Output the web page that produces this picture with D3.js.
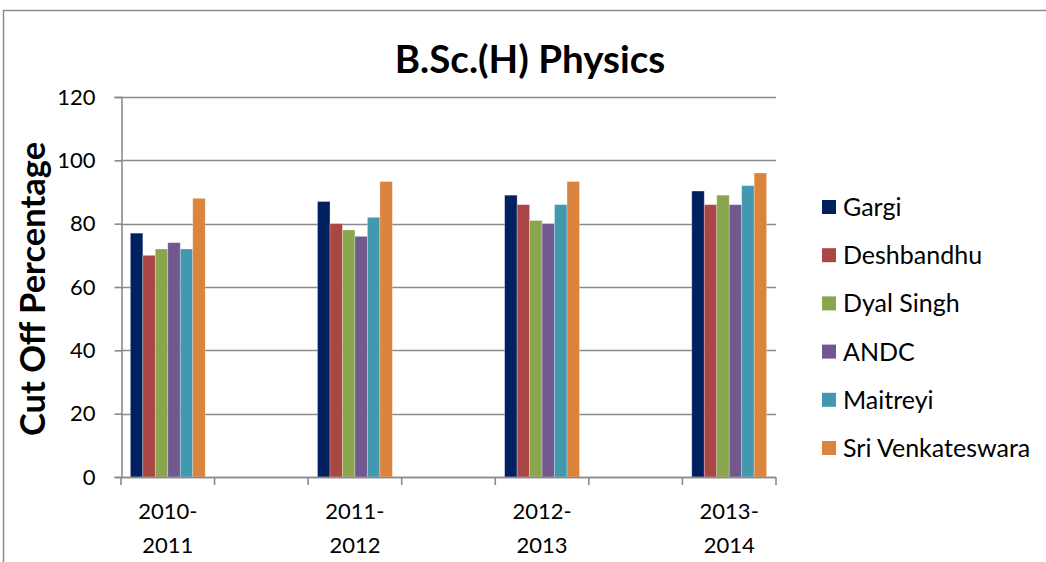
<!DOCTYPE html>
<html>
<head>
<meta charset="utf-8">
<script src="https://cdn.jsdelivr.net/npm/d3@7"></script>
<style>
  html, body { margin: 0; padding: 0; background: #fff; }
  svg { display: block; }
  text { font-family: Lato, "Open Sans", sans-serif; fill: #000; }
</style>
</head>
<body>
<svg id="chart" width="1046" height="562"></svg>
<script>
// ---- data ----
const slots = ["2010-2011", "", "2011-2012", "", "2012-2013", "", "2013-2014"];
const series = ["Gargi", "Deshbandhu", "Dyal Singh", "ANDC", "Maitreyi", "Sri Venkateswara"];
const gargi      = [77, null, 87, null, 89, null, 90.3];
const deshbandhu = [70, null, 80, null, 86, null, 86];
const dyalSingh  = [72, null, 78, null, 81, null, 89];
const andc       = [74, null, 76, null, 80, null, 86];
const maitreyi   = [72, null, 82, null, 86, null, 92];
const sriVenk    = [88, null, 93.3, null, 93.3, null, 96];
const yTicks = [0, 20, 40, 60, 80, 100, 120];
const colors = ["#002060", "#AA4643", "#89A54E", "#71588F", "#4198AF", "#DB843D"];

const seriesValues = [gargi, deshbandhu, dyalSingh, andc, maitreyi, sriVenk];

// ---- layout ----
const svg = d3.select("#chart");
const pLeft = 121, pRight = 776, pTop = 97, pBottom = 477;

// outer chart border
svg.append("rect").attr("x", 3.5).attr("y", 10.5).attr("width", 1100).attr("height", 600)
  .attr("fill", "none").attr("stroke", "#8c8c8c").attr("stroke-width", 1.5);

const x = d3.scaleBand().domain(d3.range(slots.length)).range([pLeft, pRight]).padding(0);
const xi = d3.scaleBand().domain(d3.range(series.length)).range([0, x.bandwidth()])
  .paddingInner(0).paddingOuter(0.75);
const y = d3.scaleLinear().domain([0, 120]).range([pBottom, pTop]);

// gridlines
svg.append("g").selectAll("line").data(yTicks).join("line")
  .attr("x1", pLeft).attr("x2", pRight)
  .attr("y1", d => Math.round(y(d)) + 0.5).attr("y2", d => Math.round(y(d)) + 0.5)
  .attr("stroke", "#8a8a8a").attr("stroke-width", 1.6);

// bars
const groups = svg.append("g").selectAll("g").data(series).join("g")
  .attr("fill", (d, i) => colors[i]);
groups.each(function(s, si) {
  d3.select(this).selectAll("rect")
    .data(seriesValues[si].map((v, i) => ({ v, i })).filter(d => d.v != null))
    .join("rect")
    .attr("x", d => x(d.i) + xi(si))
    .attr("width", xi.bandwidth())
    .attr("y", d => y(d.v))
    .attr("height", d => y(0) - y(d.v))
    .attr("stroke", "rgba(255,255,255,0.35)")
    .attr("stroke-width", 0.8);
});

// y axis
const yAxis = d3.axisLeft(y).tickValues(yTicks).tickSize(7).tickPadding(19);
const gy = svg.append("g").attr("transform", `translate(${pLeft + 0.5},0)`).call(yAxis);
gy.select(".domain").attr("stroke", "#8a8a8a").attr("stroke-width", 1.6);
gy.selectAll(".tick line").attr("stroke", "#8a8a8a").attr("stroke-width", 1.6);
gy.selectAll("text").attr("font-size", 22).attr("font-family", "Lato, sans-serif").attr("fill", "#000");

// x axis (ticks at band boundaries)
const boundaries = d3.range(slots.length + 1).map(i => pLeft + i * x.step());
const gx = svg.append("g");
gx.append("line").attr("x1", pLeft).attr("x2", pRight)
  .attr("y1", Math.round(y(0)) + 0.5).attr("y2", Math.round(y(0)) + 0.5)
  .attr("stroke", "#8a8a8a").attr("stroke-width", 1.6);
gx.selectAll("line.t").data(boundaries).join("line").attr("class", "t")
  .attr("x1", d => d).attr("x2", d => d)
  .attr("y1", y(0)).attr("y2", y(0) + 8)
  .attr("stroke", "#8a8a8a").attr("stroke-width", 1.6);
gx.selectAll("text").data(slots.map((s, i) => ({ s, i })).filter(d => d.s)).join("text")
  .attr("text-anchor", "middle")
  .attr("font-size", 22)
  .each(function(d) {
    const parts = d.s.split("-");
    const cx = x(d.i) + x.bandwidth() / 2;
    d3.select(this).append("tspan").attr("x", cx).attr("y", 519).text(parts[0] + "-");
    d3.select(this).append("tspan").attr("x", cx).attr("y", 553).text(parts[1]);
  });

// title
svg.append("text").attr("x", 530).attr("y", 73).attr("text-anchor", "middle")
  .attr("font-size", 38.5).attr("font-weight", "bold").text("B.Sc.(H) Physics");

// y axis title
svg.append("text").attr("transform", `translate(45,289) rotate(-90)`)
  .attr("text-anchor", "middle").attr("font-size", 34.5).attr("font-weight", "bold")
  .text("Cut Off Percentage");

// legend
const legend = svg.append("g").selectAll("g").data(series).join("g")
  .attr("transform", (d, i) => `translate(822,${207 + i * 48.2})`);
legend.append("rect").attr("x", 0).attr("y", -7).attr("width", 14).attr("height", 14)
  .attr("fill", (d, i) => colors[i]);
legend.append("text").attr("x", 21).attr("y", 0).attr("dy", "0.36em")
  .attr("font-size", 25).text(d => d);
</script>
</body>
</html>
